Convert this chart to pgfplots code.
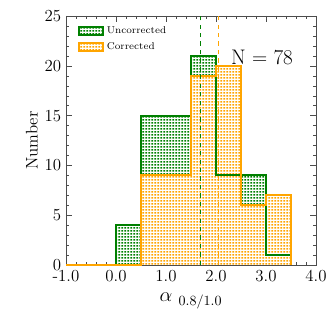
\documentclass[border=0pt]{standalone}
\usepackage{pgfplots}
\pgfplotsset{compat=1.18}
\usepackage{pgfplotstable}
\usetikzlibrary{patterns,patterns.meta}
\definecolor{histgreen}{RGB}{0,128,0}
\definecolor{historange}{RGB}{255,165,0}

\pgfdeclarepattern{
  name=densedots, type=uncolored,
  bottom left={\pgfpoint{0pt}{0pt}}, top right={\pgfpoint{2.3pt}{2.3pt}},
  tile size={\pgfpoint{2.3pt}{2.3pt}},
  code={\pgfpathrectangle{\pgfpoint{0.4pt}{0.4pt}}{\pgfpoint{1.45pt}{1.3pt}}\pgfusepath{fill}}
}

% bin left edges, counts (last rows close the final bin)
\pgfplotstableread{
x    unc  cor
-1.0  0    0
-0.5  0    0
0.0   4    0
0.5   15   9
1.0   15   9
1.5   21   19
2.0   9    20
2.5   9    6
3.0   1    7
3.5   1    7
3.5   0    0
}\histdata

\begin{document}
\begin{tikzpicture}
\begin{axis}[
    width=6.25cm, height=6.225cm,
    scale only axis,
    xmin=-1, xmax=4, ymin=0, ymax=25,
    xtick={-1,0,1,2,3,4},
    xticklabels={-1.0,0.0,1.0,2.0,3.0,4.0},
    ytick={0,5,10,15,20,25},
    minor x tick num=4,
    minor y tick num=4,
    tick align=inside,
    xtick pos=both, ytick pos=both,
    major tick length=4pt, minor tick length=2pt,
    tick style={black!70},
    axis line style={black!70},
    ticklabel style={font=\fontsize{12}{14}\selectfont},
    xlabel={$\alpha_{\ \mathrm{0.8/1.0}}$},
    ylabel={Number},
    xlabel style={font=\fontsize{14}{16}\selectfont, yshift=-1pt},
    ylabel style={font=\fontsize{12}{14}\selectfont, yshift=-2pt},
    legend style={at={(0.03,0.98)}, anchor=north west, draw=none, fill=none,
        font=\fontsize{7}{9}\selectfont, row sep=1pt},
    legend cell align=left,
    area legend,
    clip=false,
]
% fills
\addplot[const plot, draw=none, fill=white, forget plot] table[x=x,y=unc] {\histdata} \closedcycle;
\addplot[const plot, draw=none, pattern=densedots, pattern color=histgreen, forget plot] table[x=x,y=unc] {\histdata} \closedcycle;
\addplot[const plot, draw=none, fill=white, forget plot] table[x=x,y=cor] {\histdata} \closedcycle;
\addplot[const plot, draw=none, pattern=densedots, pattern color=historange, forget plot] table[x=x,y=cor] {\histdata} \closedcycle;
% outlines
\addplot[const plot, histgreen, line width=1.4pt, forget plot] table[x=x,y=unc] {\histdata};
\addplot[const plot, historange, line width=1.4pt, forget plot] table[x=x,y=cor] {\histdata};
% medians
\addplot[histgreen, dashed, thin, forget plot] coordinates {(1.68,0) (1.68,25)};
\addplot[historange, dashed, thin, forget plot] coordinates {(2.04,0) (2.04,25)};
% legend entries
\addlegendimage{draw=histgreen, line width=1.4pt, pattern=densedots, pattern color=histgreen}
\addlegendentry{Uncorrected}
\addlegendimage{draw=historange, line width=1.4pt, pattern=densedots, pattern color=historange}
\addlegendentry{Corrected}
\node[font=\fontsize{15}{17}\selectfont] at (axis cs:2.92,20.8) {N = 78};
\coordinate (bl) at (rel axis cs:0,0);
\coordinate (tr) at (rel axis cs:1,1);
\end{axis}
\path (bl) ++(-1.65cm,-1.675cm) (tr) ++(0.4cm,0.4cm);
\end{tikzpicture}
\end{document}
